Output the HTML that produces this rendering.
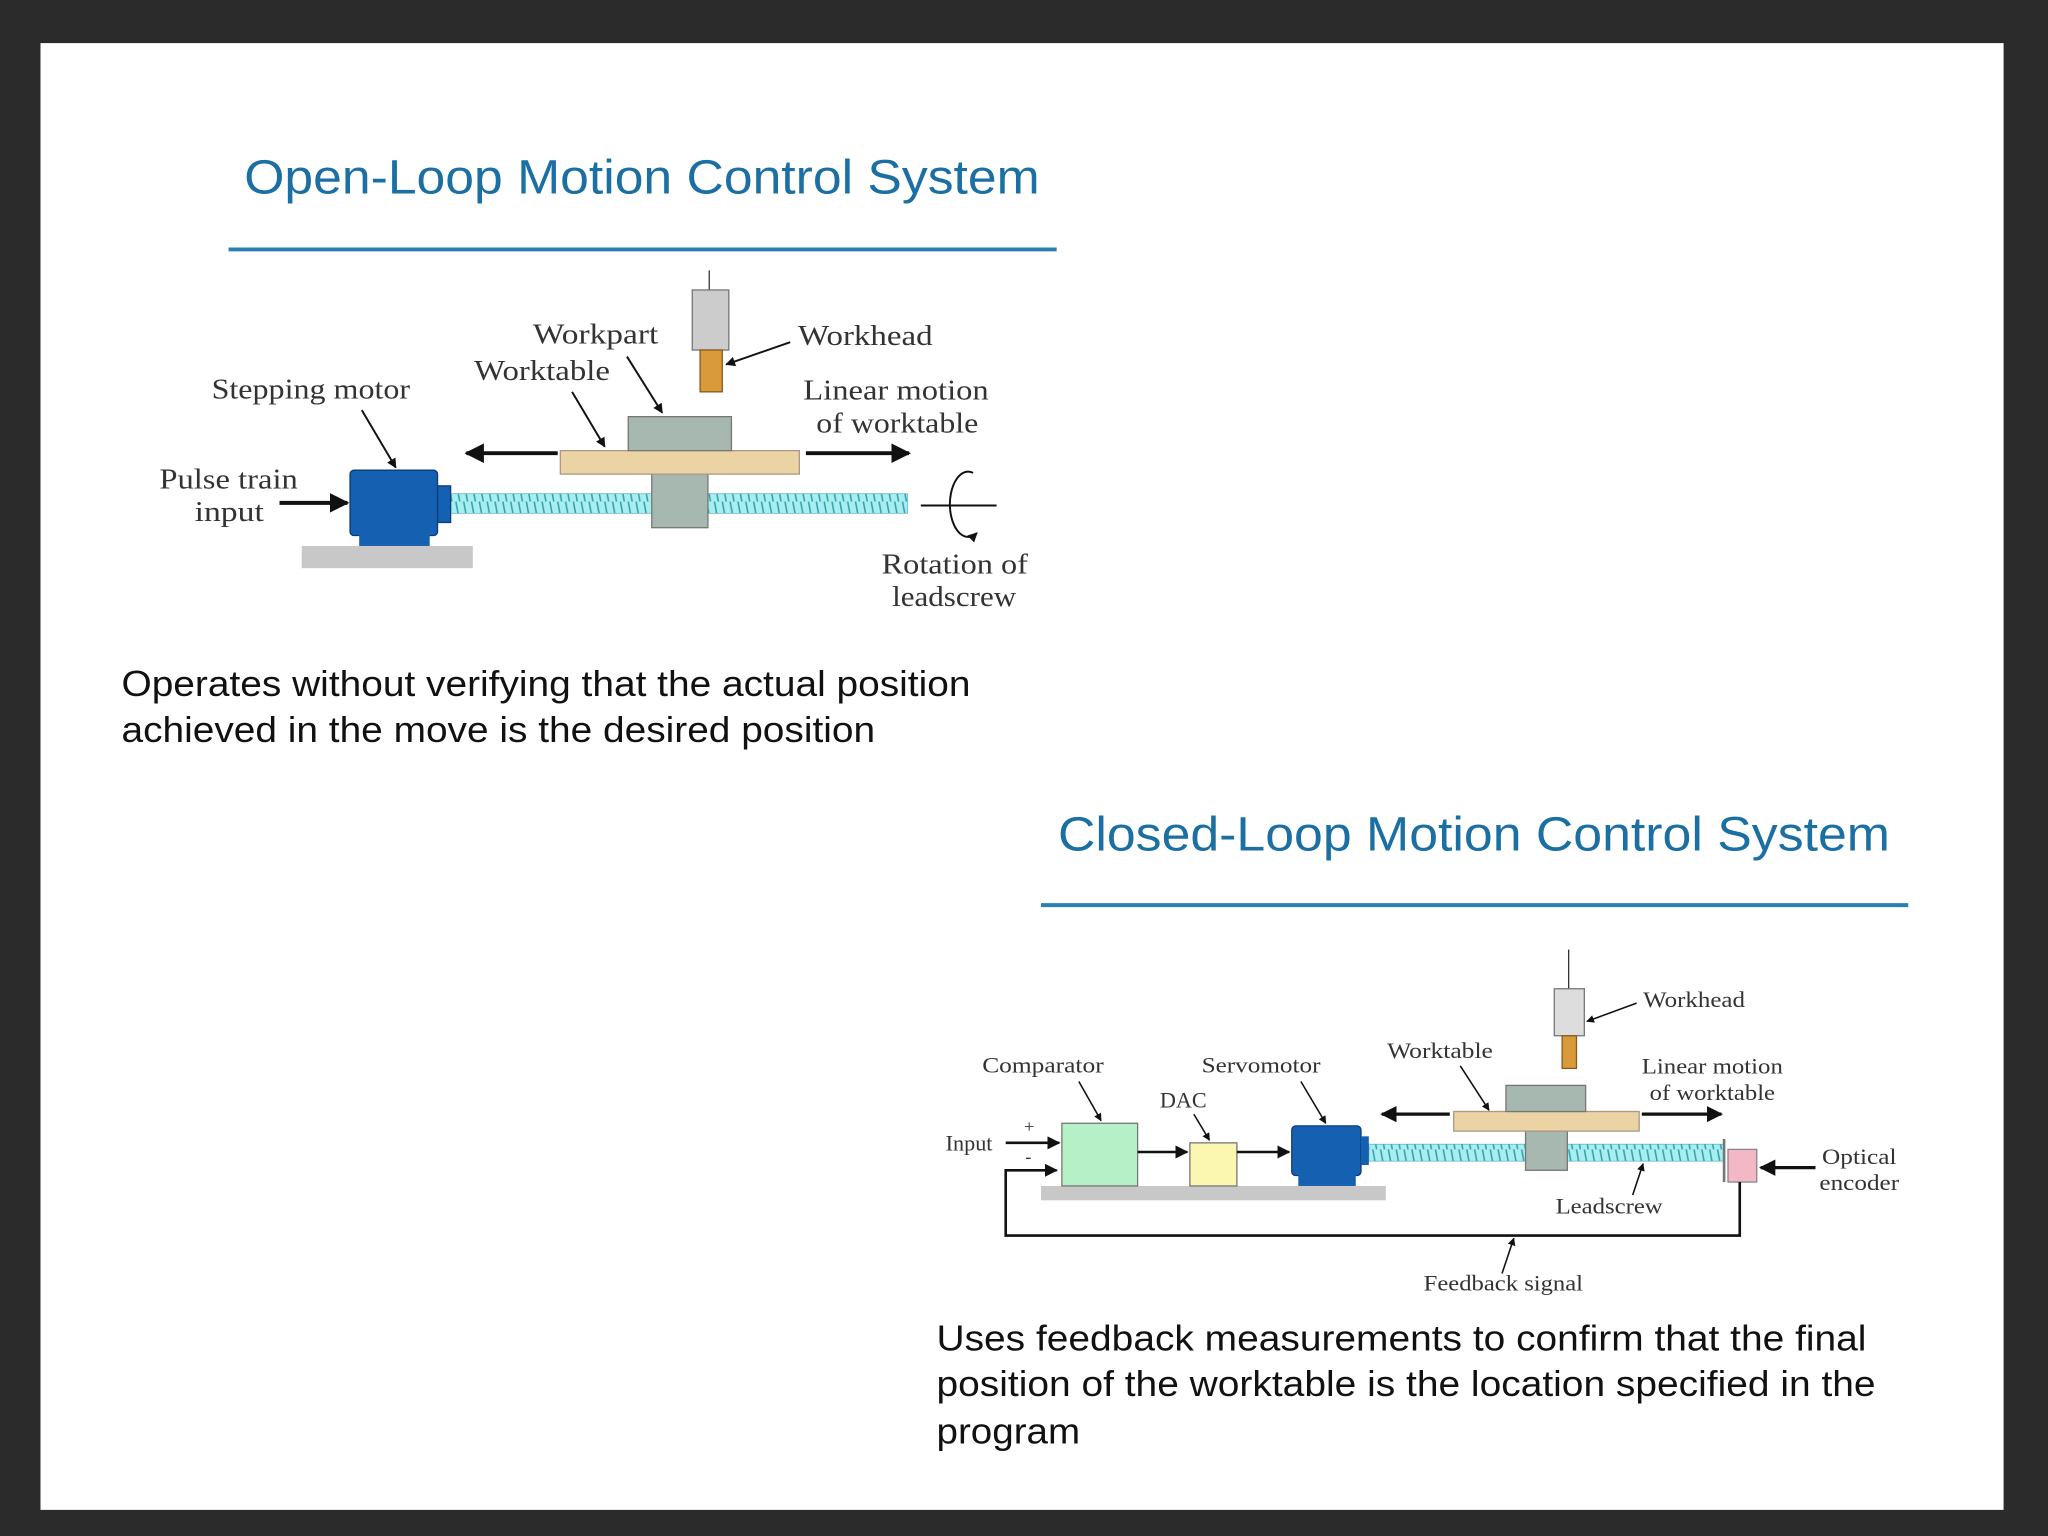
<!DOCTYPE html>
<html><head><style>
html,body{margin:0;padding:0;background:#2b2b2b;}
svg{display:block}
.s{font-family:"Liberation Serif",serif;fill:#333}
.t{font-family:"Liberation Sans",sans-serif;fill:#1b6fa3}
.b{font-family:"Liberation Sans",sans-serif;fill:#111}
</style></head><body>
<svg width="2048" height="1536" viewBox="0 0 1568 1176" xmlns="http://www.w3.org/2000/svg">
<defs>
<marker id="a" viewBox="0 0 10 10" refX="9" refY="5" markerWidth="5" markerHeight="5" orient="auto"><path d="M0,0 L10,5 L0,10 z" fill="#111"/></marker>
<pattern id="sc" width="6" height="16" patternUnits="userSpaceOnUse"><rect width="6" height="16" fill="#a6eef0"/><path d="M1,0 L4,16" stroke="#3aa0a8" stroke-width="1.2"/></pattern>
</defs>
<rect x="0" y="0" width="1568" height="1176" fill="#2b2b2b"/>
<rect x="31" y="33" width="1503" height="1123" fill="#fff"/>

<!-- Open loop -->
<text class="t" x="187" y="148" font-size="37" textLength="609" lengthAdjust="spacingAndGlyphs">Open-Loop Motion Control System</text>
<line x1="175" y1="191" x2="809" y2="191" stroke="#2a80b3" stroke-width="3"/>
<rect x="231" y="418" width="131" height="17" fill="#c8c8c8"/>
<rect x="345" y="378" width="350" height="15" fill="url(#sc)" stroke="#5ab" stroke-width="0.5"/>
<rect x="268" y="360" width="67" height="50" rx="3" fill="#1560b0" stroke="#0a3d7a"/>
<rect x="275" y="408" width="54" height="10" fill="#1560b0"/>
<rect x="335" y="372" width="10" height="28" fill="#1560b0" stroke="#0a3d7a"/>
<rect x="499" y="362" width="43" height="42" fill="#a7b8b0" stroke="#777"/>
<rect x="429" y="345" width="183" height="18" fill="#ecd3a3" stroke="#a98" />
<rect x="481" y="319" width="79" height="26" fill="#a7b8b0" stroke="#777"/>
<line x1="543" y1="207" x2="543" y2="222" stroke="#333"/>
<rect x="530" y="222" width="28" height="46" fill="#ccc" stroke="#777"/>
<rect x="536" y="268" width="17" height="32" fill="#d99a3a" stroke="#8a5a1a"/>
<line x1="427" y1="347" x2="357" y2="347" stroke="#111" stroke-width="3" marker-end="url(#a)"/>
<line x1="617" y1="347" x2="696" y2="347" stroke="#111" stroke-width="3" marker-end="url(#a)"/>
<line x1="214" y1="385" x2="266" y2="385" stroke="#111" stroke-width="3" marker-end="url(#a)"/>
<line x1="277" y1="314" x2="303" y2="358" stroke="#111" stroke-width="1.5" marker-end="url(#a)"/>
<line x1="438" y1="300" x2="463" y2="342" stroke="#111" stroke-width="1.5" marker-end="url(#a)"/>
<line x1="480" y1="273" x2="507" y2="316" stroke="#111" stroke-width="1.5" marker-end="url(#a)"/>
<line x1="605" y1="262" x2="556" y2="279" stroke="#111" stroke-width="1.5" marker-end="url(#a)"/>
<line x1="705" y1="387" x2="763" y2="387" stroke="#111" stroke-width="1.5"/>
<path d="M745,362 A14,25 0 1,0 748,408" fill="none" stroke="#111" stroke-width="1.5" marker-end="url(#a)"/>
<g class="s" font-size="22">
<text x="408" y="263" textLength="96" lengthAdjust="spacingAndGlyphs">Workpart</text>
<text x="363" y="291" textLength="104" lengthAdjust="spacingAndGlyphs">Worktable</text>
<text x="611" y="264" textLength="103" lengthAdjust="spacingAndGlyphs">Workhead</text>
<text x="162" y="305" textLength="152" lengthAdjust="spacingAndGlyphs">Stepping motor</text>
<text x="615" y="306" textLength="142" lengthAdjust="spacingAndGlyphs">Linear motion</text>
<text x="625" y="331" textLength="124" lengthAdjust="spacingAndGlyphs">of worktable</text>
<text x="122" y="374" textLength="106" lengthAdjust="spacingAndGlyphs">Pulse train</text>
<text x="149" y="399" textLength="53" lengthAdjust="spacingAndGlyphs">input</text>
<text x="675" y="439" textLength="112" lengthAdjust="spacingAndGlyphs">Rotation of</text>
<text x="683" y="464" textLength="95" lengthAdjust="spacingAndGlyphs">leadscrew</text>
</g>
<text class="b" x="93" y="533" font-size="28" textLength="650" lengthAdjust="spacingAndGlyphs">Operates without verifying that the actual position</text>
<text class="b" x="93" y="568" font-size="28" textLength="577" lengthAdjust="spacingAndGlyphs">achieved in the move is the desired position</text>

<!-- Closed loop -->
<text class="t" x="810" y="651" font-size="37" textLength="637" lengthAdjust="spacingAndGlyphs">Closed-Loop Motion Control System</text>
<line x1="797" y1="693" x2="1461" y2="693" stroke="#2a80b3" stroke-width="3"/>
<rect x="797" y="908" width="264" height="11" fill="#c8c8c8"/>
<rect x="813" y="860" width="58" height="48" fill="#b6f0c6" stroke="#777"/>
<rect x="911" y="875" width="36" height="33" fill="#fbf6b0" stroke="#777"/>
<rect x="1048" y="876" width="272" height="13" fill="url(#sc)" stroke="#5ab" stroke-width="0.5"/>
<rect x="989" y="862" width="53" height="38" rx="3" fill="#1560b0" stroke="#0a3d7a"/>
<rect x="994" y="898" width="44" height="10" fill="#1560b0"/>
<rect x="1042" y="870" width="6" height="22" fill="#1560b0"/>
<rect x="1168" y="861" width="32" height="35" fill="#a7b8b0" stroke="#777"/>
<rect x="1113" y="851" width="142" height="15" fill="#ecd3a3" stroke="#a98"/>
<rect x="1153" y="831" width="61" height="20" fill="#a7b8b0" stroke="#777"/>
<line x1="1201" y1="727" x2="1201" y2="757" stroke="#333"/>
<rect x="1190" y="757" width="23" height="36" fill="#ddd" stroke="#777"/>
<rect x="1196" y="793" width="11" height="25" fill="#d99a3a" stroke="#8a5a1a"/>
<line x1="1320" y1="872" x2="1320" y2="905" stroke="#777" stroke-width="2"/>
<rect x="1323" y="880" width="22" height="25" fill="#f2b8c6" stroke="#888"/>
<polyline points="1332,905 1332,946 770,946 770,896 809,896" fill="none" stroke="#111" stroke-width="2" marker-end="url(#a)"/>
<line x1="770" y1="875" x2="811" y2="875" stroke="#111" stroke-width="2" marker-end="url(#a)"/>
<line x1="871" y1="882" x2="909" y2="882" stroke="#111" stroke-width="2" marker-end="url(#a)"/>
<line x1="947" y1="882" x2="987" y2="882" stroke="#111" stroke-width="2" marker-end="url(#a)"/>
<line x1="1110" y1="853" x2="1058" y2="853" stroke="#111" stroke-width="2.5" marker-end="url(#a)"/>
<line x1="1257" y1="853" x2="1318" y2="853" stroke="#111" stroke-width="2.5" marker-end="url(#a)"/>
<line x1="1390" y1="894" x2="1348" y2="894" stroke="#111" stroke-width="2.5" marker-end="url(#a)"/>
<line x1="826" y1="828" x2="843" y2="858" stroke="#111" stroke-width="1.2" marker-end="url(#a)"/>
<line x1="914" y1="853" x2="926" y2="873" stroke="#111" stroke-width="1.2" marker-end="url(#a)"/>
<line x1="996" y1="828" x2="1015" y2="860" stroke="#111" stroke-width="1.2" marker-end="url(#a)"/>
<line x1="1118" y1="816" x2="1140" y2="850" stroke="#111" stroke-width="1.2" marker-end="url(#a)"/>
<line x1="1253" y1="768" x2="1215" y2="782" stroke="#111" stroke-width="1.2" marker-end="url(#a)"/>
<line x1="1250" y1="915" x2="1258" y2="891" stroke="#111" stroke-width="1.2" marker-end="url(#a)"/>
<line x1="1150" y1="975" x2="1159" y2="948" stroke="#111" stroke-width="1.2" marker-end="url(#a)"/>
<g class="s" font-size="17">
<text x="752" y="821" textLength="93" lengthAdjust="spacingAndGlyphs">Comparator</text>
<text x="920" y="821" textLength="91" lengthAdjust="spacingAndGlyphs">Servomotor</text>
<text x="888" y="848">DAC</text>
<text x="1062" y="810" textLength="81" lengthAdjust="spacingAndGlyphs">Worktable</text>
<text x="1258" y="771" textLength="78" lengthAdjust="spacingAndGlyphs">Workhead</text>
<text x="1257" y="822" textLength="108" lengthAdjust="spacingAndGlyphs">Linear motion</text>
<text x="1263" y="842" textLength="96" lengthAdjust="spacingAndGlyphs">of worktable</text>
<text x="724" y="881">Input</text>
<text x="784" y="867" font-size="14">+</text>
<text x="785" y="890" font-size="14">-</text>
<text x="1395" y="891" textLength="57" lengthAdjust="spacingAndGlyphs">Optical</text>
<text x="1393" y="911" textLength="61" lengthAdjust="spacingAndGlyphs">encoder</text>
<text x="1191" y="929" textLength="82" lengthAdjust="spacingAndGlyphs">Leadscrew</text>
<text x="1090" y="988" textLength="122" lengthAdjust="spacingAndGlyphs">Feedback signal</text>
</g>
<text class="b" x="717" y="1034" font-size="28" textLength="712" lengthAdjust="spacingAndGlyphs">Uses feedback measurements to confirm that the final</text>
<text class="b" x="717" y="1069" font-size="28" textLength="719" lengthAdjust="spacingAndGlyphs">position of the worktable is the location specified in the</text>
<text class="b" x="717" y="1105" font-size="28" textLength="110" lengthAdjust="spacingAndGlyphs">program</text>
</svg>
</body></html>
